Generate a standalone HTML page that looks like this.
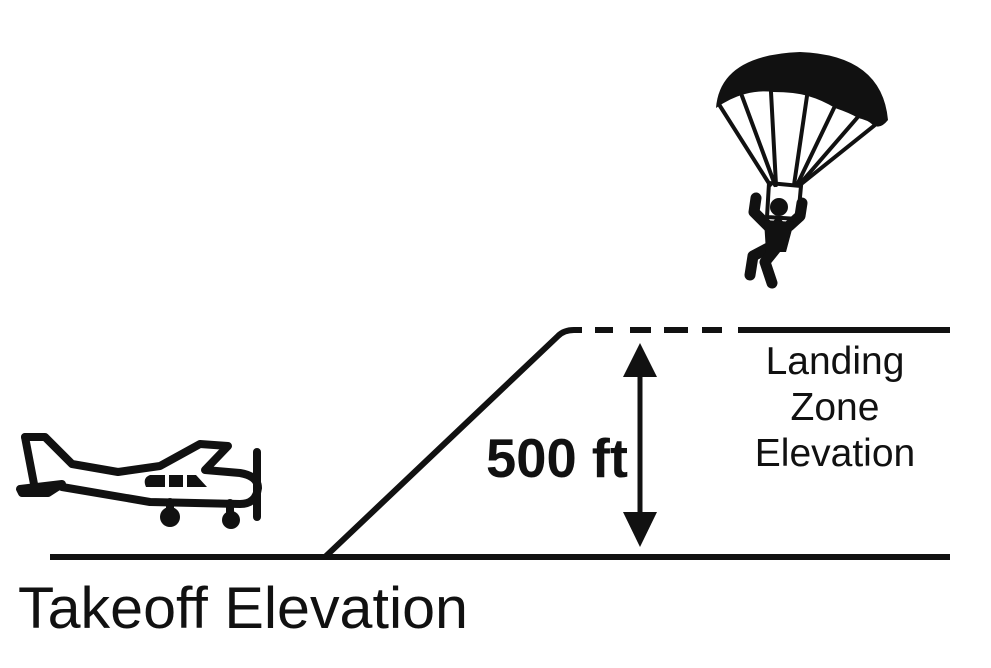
<!DOCTYPE html>
<html><head><meta charset="utf-8"><style>
html,body{margin:0;padding:0;background:#fff;}
svg{display:block;}
text{font-family:"Liberation Sans",sans-serif;fill:#111;}
</style></head><body>
<svg width="991" height="668" viewBox="0 0 991 668" xmlns="http://www.w3.org/2000/svg">
<line x1="50" y1="557" x2="950" y2="557" stroke="#111" stroke-width="6"/>
<path d="M325 557 L558 336 Q564 330 574 330 L582 330" fill="none" stroke="#111" stroke-width="6"/>
<g stroke="#111" stroke-width="6">
<line x1="595" y1="330" x2="613" y2="330"/>
<line x1="630" y1="330" x2="651" y2="330"/>
<line x1="664" y1="330" x2="688" y2="330"/>
<line x1="702" y1="330" x2="722" y2="330"/>
<line x1="738" y1="330" x2="950" y2="330"/>
</g>
<line x1="640" y1="370" x2="640" y2="520" stroke="#111" stroke-width="5"/>
<polygon points="640,343 623,377 657,377" fill="#111"/>
<polygon points="640,547 623,512 657,512" fill="#111"/>
<text x="486" y="477" font-size="55" font-weight="bold" textLength="142" lengthAdjust="spacingAndGlyphs">500 ft</text>
<text x="835" y="374" font-size="39" text-anchor="middle">Landing</text>
<text x="835" y="420" font-size="39" text-anchor="middle">Zone</text>
<text x="835" y="466" font-size="39" text-anchor="middle">Elevation</text>
<text x="18" y="628" font-size="58" textLength="450" lengthAdjust="spacingAndGlyphs">Takeoff Elevation</text>
<!-- airplane -->
<g stroke="#111" stroke-width="8" fill="none" stroke-linejoin="round" stroke-linecap="round">
<path d="M25 437 L45 437 L72 464 L118 472 L160 466 L200 444 L228 446 L205 470 L240 473 Q258 476 258 488 Q256 504 240 504 L150 502 L62 487"/>
<path d="M25 437 L34 484"/>
<path d="M20 489 L62 484 L48 493 L22 493 Z"/>
<line x1="257" y1="452" x2="257" y2="517"/>
<line x1="170" y1="502" x2="170" y2="512"/>
<line x1="230" y1="503" x2="230" y2="515"/>
</g>
<g fill="#111">
<path d="M150 475 L165 475 L165 487 L146 487 Q142 478 150 475Z"/>
<rect x="169" y="475" width="14" height="12"/>
<path d="M187 475 L196 475 L207 487 L187 487Z"/>
<circle cx="170" cy="517" r="10"/>
<circle cx="231" cy="520" r="9"/>
</g>
<!-- parachute -->
<path d="M716 108 Q720 55 800 52 Q882 55 888 120 Q880 130 873 125 Q868 120 858 118 Q850 113 835 108 Q822 100 808 96 Q795 92 773 92 Q760 90 745 94 Q730 98 716 108Z" fill="#111"/>
<g stroke="#111" stroke-width="4" fill="none" stroke-linecap="round">
<line x1="720" y1="106" x2="770" y2="185"/>
<line x1="742" y1="96" x2="775" y2="185"/>
<line x1="771" y1="92" x2="776" y2="185"/>
<line x1="807" y1="96" x2="794" y2="185"/>
<line x1="834" y1="108" x2="797" y2="185"/>
<line x1="857" y1="118" x2="799" y2="185"/>
<line x1="875" y1="125" x2="800" y2="185"/>
<path d="M769 183 L801 186 L798 219 L767 217 Z" stroke-width="4"/>
</g>
<circle cx="779" cy="207" r="9" fill="#111"/>
<g stroke="#111" stroke-width="11" fill="none" stroke-linecap="round" stroke-linejoin="round">
<path d="M756 198 L754 212 L768 226"/>
<path d="M802 203 L800 216 L789 226"/>
<path d="M778 224 L775 245"/>
<path d="M772 246 L753 256 L750 275"/>
<path d="M777 247 L765 262 L772 283"/>
</g>
<path d="M764 220 L794 222 L786 252 L766 252 Z" fill="#111"/>
</svg>
</body></html>
